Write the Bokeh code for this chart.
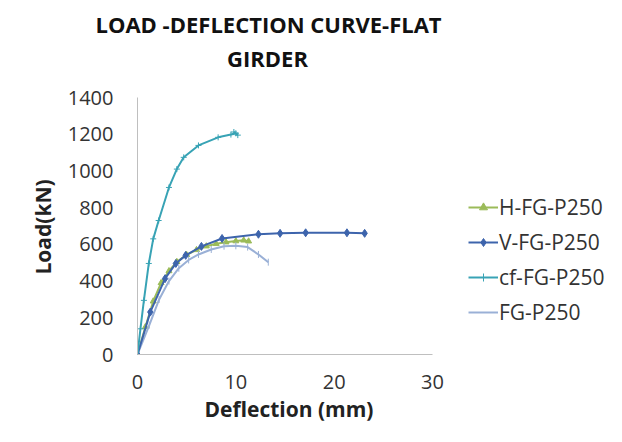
from bokeh.plotting import figure
from bokeh.models import Legend, LegendItem, Label, Title, Range1d, FixedTicker
from bokeh.embed import file_html
from bokeh.resources import INLINE

# ---- data ----
defl_h = [0, 0.8, 1.6, 2.4, 3.2, 4.0, 5.0, 6.0, 7.0, 8.0, 9.0, 10.0, 10.8, 11.3]
load_h = [0, 150, 290, 390, 455, 505, 543, 570, 590, 603, 612, 618, 622, 617]

defl_v = [0, 1.3, 2.8, 3.9, 4.9, 6.5, 8.6, 12.3, 14.5, 17.1, 21.3, 23.1]
load_v = [0, 231, 413, 496, 540, 589, 632, 655, 660, 663, 663, 660]

defl_cf = [0, 0.3, 0.65, 1.15, 1.6, 2.15, 3.2, 4.0, 4.7, 6.2, 8.2, 9.5, 10.0, 9.8, 10.2]
load_cf = [0, 140, 295, 496, 630, 730, 910, 1010, 1074, 1139, 1183, 1198, 1205, 1212, 1195]

defl_fg = [0, 1.2, 2.2, 3.2, 4.2, 5.2, 6.2, 7.5, 8.8, 10.0, 11.2, 12.3, 13.3]
load_fg = [0, 160, 300, 400, 470, 515, 545, 572, 590, 592, 585, 545, 503]

series_names = ["H-FG-P250", "V-FG-P250", "cf-FG-P250", "FG-P250"]
x_ticks = [0, 10, 20, 30]
y_ticks = [0, 200, 400, 600, 800, 1000, 1200, 1400]
title_lines = ["LOAD -DEFLECTION CURVE-FLAT", "GIRDER"]
x_label = "Deflection (mm)"
y_label = "Load(kN)"

FONT = "Open Sans"

# layout: axes occupy 295 x 257 px; the frame extends further right/up so
# that the second title line and the legend (drawn inside the frame) show.
W, H = 622, 442
LEFT, BOTTOM, TOP = 137, 88, 42
AX_W, AX_H = 295, 257
FRAME_W, FRAME_H = W - LEFT, H - BOTTOM - TOP
X_MAX, Y_MAX = x_ticks[-1], y_ticks[-1]

p = figure(width=W, height=H, output_backend="svg", toolbar_location=None,
           x_range=Range1d(0, X_MAX * FRAME_W / AX_W),
           y_range=Range1d(0, Y_MAX * FRAME_H / AX_H),
           min_border_left=LEFT, min_border_right=0, min_border_top=TOP,
           min_border_bottom=BOTTOM)
p.outline_line_color = None
p.xgrid.visible = False
p.ygrid.visible = False
p.background_fill_color = "white"
p.border_fill_color = "white"

for ax in (p.xaxis[0], p.yaxis[0]):
    ax.axis_line_color = "#BFBFBF"
    ax.major_tick_line_color = None
    ax.minor_tick_line_color = None
    ax.major_tick_out = 0
    ax.major_tick_in = 0
    ax.minor_tick_out = 0
    ax.minor_tick_in = 0
    ax.major_label_text_font = FONT
    ax.major_label_text_font_size = "20px"
    ax.major_label_text_color = "#333333"

p.xaxis.bounds = (0, X_MAX)
p.yaxis.bounds = (0, Y_MAX)
p.xaxis.ticker = FixedTicker(ticks=x_ticks)
p.yaxis.ticker = FixedTicker(ticks=y_ticks)
p.xaxis.major_label_standoff = 20
p.yaxis.major_label_standoff = 24

# axis titles, placed under / beside the axes (not the wider frame)
xt = Title(text=x_label, align="left", offset=67,
           standoff=3, text_font=FONT, text_font_style="bold",
           text_font_size="21px", text_color="#222222")
yt = Title(text=y_label, align="left", offset=80,
           standoff=15, text_font=FONT, text_font_style="bold",
           text_font_size="21px", text_color="#222222")
p.add_layout(xt, "below")
p.add_layout(yt, "left")

c_h, c_v, c_cf, c_fg = "#9BBB59", "#3D64AC", "#38A3B5", "#9AB0D6"

lh = p.line(defl_h, load_h, line_color=c_h, line_width=2)
mh = p.scatter(defl_h, load_h, marker="triangle", size=6, color=c_h)
lfg = p.line(defl_fg, load_fg, line_color=c_fg, line_width=2)
mfg = p.scatter(defl_fg, load_fg, marker="dash", angle=1.5708, size=7, color=c_fg)
lv = p.line(defl_v, load_v, line_color=c_v, line_width=2)
mv = p.scatter(defl_v, load_v, marker="diamond", size=8, color=c_v)
lcf = p.line(defl_cf, load_cf, line_color=c_cf, line_width=2)
mcf = p.scatter(defl_cf, load_cf, marker="cross", size=6, color=c_cf)

legend = Legend(items=[
    LegendItem(label=series_names[0], renderers=[lh, mh]),
    LegendItem(label=series_names[1], renderers=[lv, mv]),
    LegendItem(label=series_names[2], renderers=[lcf, mcf]),
    LegendItem(label=series_names[3], renderers=[lfg, mfg]),
], location=(331, 28))
legend.border_line_color = None
legend.background_fill_alpha = 0
legend.padding = 0
legend.margin = 0
legend.spacing = 7
legend.glyph_width = 30
legend.glyph_height = 20
legend.label_height = 20
legend.label_standoff = 1
legend.label_text_font = FONT
legend.label_text_font_size = "21px"
legend.label_text_color = "#333333"
p.add_layout(legend)

# title: first line in the top panel, second line inside the frame
t1 = Title(text=title_lines[0], align="left", offset=-42,
           standoff=7, text_font=FONT, text_font_style="bold",
           text_font_size="22px", text_color="#111111")
p.add_layout(t1, "above")
t2 = Label(x=130, y=297, x_units="screen", y_units="screen",
           text=title_lines[1], text_align="center",
           text_baseline="middle", text_font=FONT, text_font_style="bold",
           text_font_size="22px", text_color="#111111")
p.add_layout(t2)

open("out.html", "w").write(file_html(p, INLINE))
